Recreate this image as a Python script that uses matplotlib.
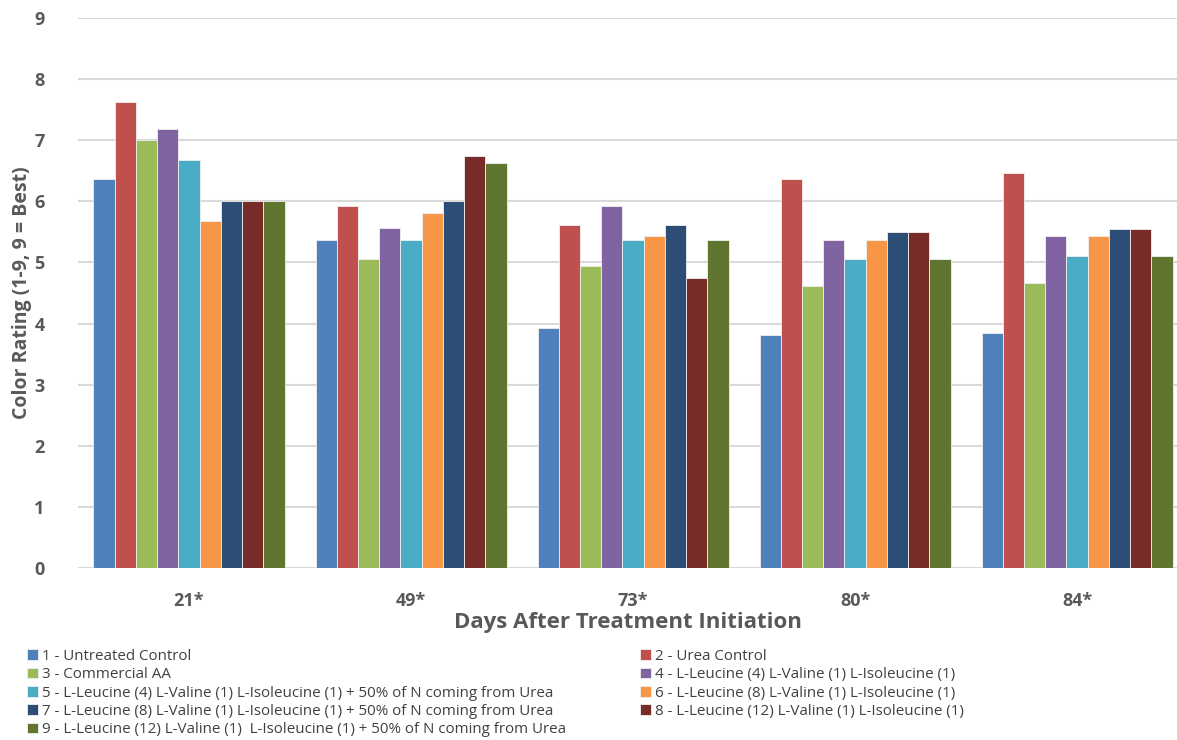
import matplotlib.pyplot as plt
import numpy as np

plt.rcParams['font.family'] = ['Open Sans', 'DejaVu Sans']

days = ['21*', '49*', '73*', '80*', '84*']

treatments = [
    '1 - Untreated Control',
    '2 - Urea Control',
    '3 - Commercial AA',
    '4 - L-Leucine (4) L-Valine (1) L-Isoleucine (1)',
    '5 - L-Leucine (4) L-Valine (1) L-Isoleucine (1) + 50% of N coming from Urea',
    '6 - L-Leucine (8) L-Valine (1) L-Isoleucine (1)',
    '7 - L-Leucine (8) L-Valine (1) L-Isoleucine (1) + 50% of N coming from Urea',
    '8 - L-Leucine (12) L-Valine (1) L-Isoleucine (1)',
    '9 - L-Leucine (12) L-Valine (1)  L-Isoleucine (1) + 50% of N coming from Urea',
]

# color rating per treatment, one value per day
t1 = [6.36, 5.37, 3.93, 3.81, 3.85]
t2 = [7.62, 5.93, 5.62, 6.37, 6.46]
t3 = [7.00, 5.06, 4.94, 4.62, 4.67]
t4 = [7.18, 5.56, 5.93, 5.37, 5.44]
t5 = [6.68, 5.37, 5.37, 5.06, 5.11]
t6 = [5.68, 5.81, 5.44, 5.37, 5.43]
t7 = [6.00, 6.00, 5.62, 5.50, 5.55]
t8 = [6.00, 6.75, 4.75, 5.50, 5.55]
t9 = [6.00, 6.62, 5.37, 5.06, 5.11]

colors = ['#4F81BD', '#C0504D', '#9BBB59', '#8064A2', '#4BACC6',
          '#F79646', '#2C4D75', '#772C2A', '#5F7530']

series = [t1, t2, t3, t4, t5, t6, t7, t8, t9]

fig = plt.figure(figsize=(11.77, 7.40), dpi=100)
ax = fig.add_axes([78 / 1177, 1 - 568 / 740, 1 - 78 / 1177, 550 / 740])

x = np.arange(len(days))
width = 0.0956
bars = []
for i, (vals, c) in enumerate(zip(series, colors)):
    off = (i - 4) * width
    b = ax.bar(x + off, vals, width=width, color=c, edgecolor='#f0f0f0',
               linewidth=0.6, zorder=3)
    bars.append(b)

ax.set_ylim(0, 9)
ax.set_xlim(-0.5, 4.45)
ax.set_yticks(range(10))
ax.yaxis.grid(True, color='#D9D9D9', linewidth=1.5, zorder=0)
for s in ax.spines.values():
    s.set_visible(False)
ax.tick_params(length=0, colors='#595959', labelsize=13)
ax.tick_params(axis='y', pad=24)
ax.tick_params(axis='x', pad=17)
ax.set_xticks(x)
ax.set_xticklabels(days)
for lbl in ax.get_xticklabels() + ax.get_yticklabels():
    lbl.set_fontweight('bold')

ax.set_xlabel('Days After Treatment Initiation', fontsize=16, fontweight='bold',
              color='#595959', labelpad=2)
ax.set_ylabel('Color Rating (1-9, 9 = Best)', fontsize=14, fontweight='bold',
              color='#595959', labelpad=2)

leg_kw = dict(frameon=False, fontsize=10.9, handlelength=0.7, handleheight=0.7,
              handletextpad=0.3, labelspacing=0.22, labelcolor='#404040',
              borderaxespad=0, borderpad=0)
fig.legend([bars[i] for i in (0, 2, 4, 6, 8)], [treatments[i] for i in (0, 2, 4, 6, 8)],
           loc='upper left', bbox_to_anchor=(27 / 1177, 1 - 649 / 740), **leg_kw)
fig.legend([bars[i] for i in (1, 3, 5, 7)], [treatments[i] for i in (1, 3, 5, 7)],
           loc='upper left', bbox_to_anchor=(640 / 1177, 1 - 649 / 740), **leg_kw)

fig.savefig('out.png', dpi=100)
